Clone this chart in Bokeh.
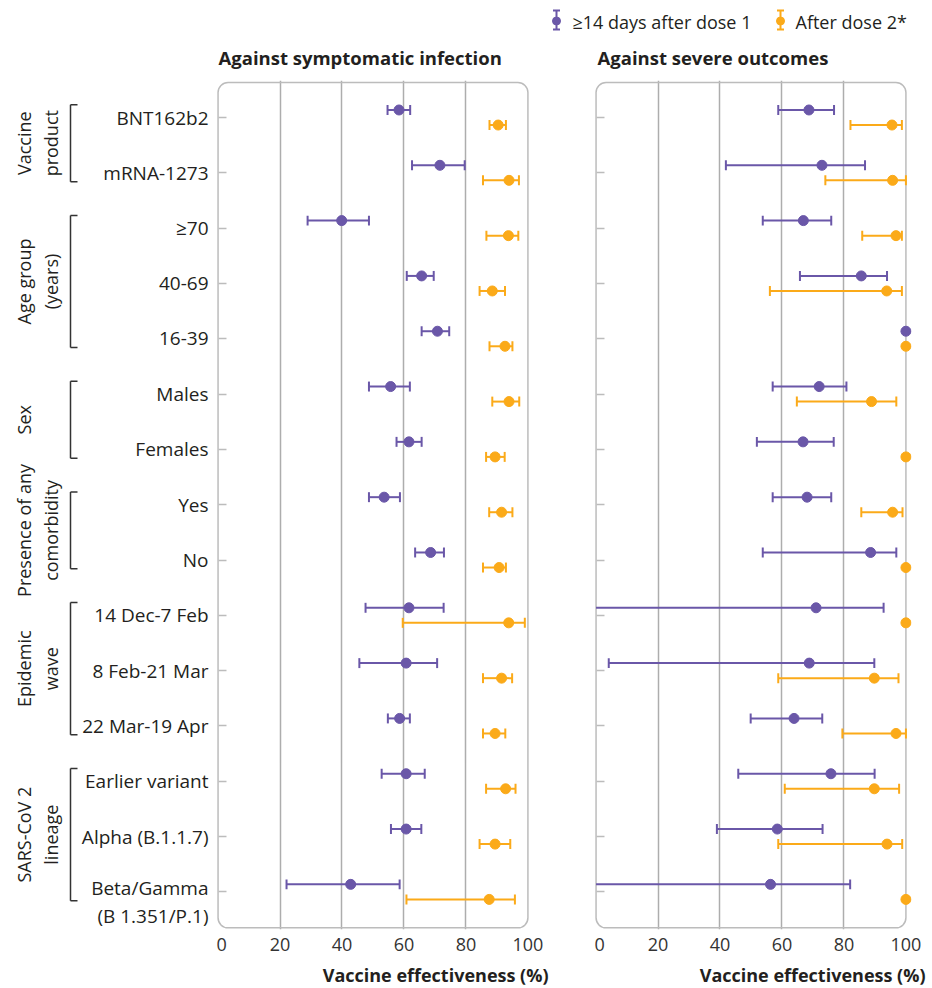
import numpy as np
from bokeh.plotting import figure
from bokeh.models import Range1d, FixedTicker
from bokeh.layouts import column, row
from bokeh.embed import file_html
from bokeh.resources import INLINE
from bokeh.core.properties import value

# ---------------- data ----------------
rows = ["BNT162b2", "mRNA-1273", "≥70", "40-69", "16-39", "Males", "Females",
        "Yes", "No", "14 Dec-7 Feb", "8 Feb-21 Mar", "22 Mar-19 Apr",
        "Earlier variant", "Alpha (B.1.1.7)", "Beta/Gamma\n(B 1.351/P.1)"]
groups = ["Vaccine\nproduct", "Age group\n(years)", "Sex", "Presence of any\ncomorbidity",
          "Epidemic\nwave", "SARS-CoV 2\nlineage"]
group_first = [0, 2, 5, 7, 9, 12]
group_last = [1, 4, 6, 8, 11, 14]
x_ticks = [0, 20, 40, 60, 80, 100]
panel_titles = ["Against symptomatic infection", "Against severe outcomes"]
series_names = ["≥14 days after dose 1", "After dose 2*"]
x_label = "Vaccine effectiveness (%)"

NA = np.nan        # no interval shown
BELOW = -np.inf    # lower limit falls below the axis (not readable)

# Against symptomatic infection
sym_d1_est = [58.4, 71.6, 39.9, 65.7, 70.8, 55.7, 61.6, 53.6, 68.6, 61.6, 60.7, 58.6, 60.7, 60.7, 42.8]
sym_d1_lo  = [54.7, 62.6, 28.9, 60.9, 65.7, 48.7, 57.6, 48.7, 63.6, 47.6, 45.6, 54.8, 52.8, 55.8, 22.1]
sym_d1_hi  = [62.0, 79.6, 48.7, 69.6, 74.6, 61.9, 65.7, 58.7, 72.9, 72.8, 70.7, 61.9, 66.7, 65.6, 58.6]
sym_d2_est = [90.4, 93.9, 93.7, 88.5, 92.6, 93.9, 89.4, 91.5, 90.7, 93.8, 91.5, 89.4, 92.8, 89.4, 87.5]
sym_d2_lo  = [87.6, 85.5, 86.6, 84.4, 87.6, 88.5, 86.5, 87.5, 85.5, 59.6, 85.5, 85.5, 86.5, 84.4, 60.8]
sym_d2_hi  = [92.9, 97.1, 96.9, 92.6, 95.0, 97.2, 92.5, 95.0, 92.9, 99.0, 94.9, 92.7, 96.0, 94.3, 95.8]

# Against severe outcomes
sev_d1_est = [68.7, 72.9, 66.9, 85.6, 100, 72.0, 66.8, 68.1, 88.6, 71.0, 68.8, 63.9, 75.8, 58.5, 56.3]
sev_d1_lo  = [58.8, 41.9, 53.8, 65.8, NA, 57.0, 51.9, 57.0, 53.8, BELOW, 4.1, 49.9, 45.9, 39.0, BELOW]
sev_d1_hi  = [76.8, 86.8, 75.9, 93.9, NA, 80.8, 76.7, 75.9, 96.9, 92.8, 89.8, 73.0, 89.9, 73.1, 82.0]
sev_d2_est = [95.5, 95.7, 96.8, 93.8, 100, 88.9, 100, 95.7, 100, 100, 89.8, 96.8, 89.8, 93.9, 100]
sev_d2_lo  = [82.1, 74.0, 85.9, 56.1, NA, 64.8, NA, 85.6, NA, NA, 58.8, 79.5, 60.9, 58.8, NA]
sev_d2_hi  = [98.7, 100, 98.7, 98.7, NA, 96.9, NA, 98.9, NA, NA, 97.6, 100, 97.8, 98.8, NA]

# ---------------- style ----------------
PURPLE = "#6a57a8"
ORANGE = "#fbaa19"
TXT = "#231f20"
FRAME_C = "#bcbcbc"
GRID_C = "#adadad"
FONT = "Open Sans"

ROW_PX = 55.3
FRAME_W = 317
FRAME_H = 849
Y_TOP = -0.669
Y_BOT = 14.68
BOX_TOP = -0.633
BOX_BOT = 14.65
X0, X1 = -0.5, 101.8
OFF = 0.136
CAP = 0.09
LW = 216
BOTTOM = 30

y_range = Range1d(Y_BOT, Y_TOP)


def bare(fig):
    fig.outline_line_color = None
    fig.grid.visible = False
    fig.background_fill_color = "white"
    fig.border_fill_color = "white"


def panel(d1, d2, mbr):
    p = figure(frame_width=FRAME_W, frame_height=FRAME_H,
               x_range=Range1d(X0, X1), y_range=y_range,
               output_backend="svg", toolbar_location=None,
               min_border_left=0, min_border_top=0, min_border_bottom=BOTTOM,
               min_border_right=mbr)
    p.outline_line_color = None
    p.background_fill_color = "white"
    p.border_fill_color = "white"
    p.ygrid.visible = False
    p.xgrid.ticker = FixedTicker(ticks=x_ticks[1:-1])
    p.xgrid.grid_line_color = GRID_C
    p.xgrid.grid_line_width = 1.5

    xa = p.xaxis[0]
    xa.ticker = FixedTicker(ticks=x_ticks)
    xa.axis_line_color = None
    xa.major_tick_line_color = None
    xa.minor_tick_line_color = None
    xa.major_label_text_font = FONT
    xa.major_label_text_font_size = "18px"
    xa.major_label_text_color = "#333333"
    xa.major_label_standoff = 2

    ya = p.yaxis[0]
    ya.ticker = FixedTicker(ticks=list(range(len(rows))))
    ya.major_label_overrides = {i: "" for i in range(len(rows))}
    ya.fixed_location = 0
    ya.axis_line_color = None
    ya.major_tick_in = 8
    ya.major_tick_out = 0
    ya.major_tick_line_color = FRAME_C
    ya.major_tick_line_width = 1.5
    ya.minor_tick_line_color = None
    ya.major_label_standoff = 0

    p.quad(left=x_ticks[0], right=x_ticks[-1], top=BOX_TOP, bottom=BOX_BOT,
           fill_color=None, line_color=FRAME_C, line_width=1.5, border_radius=10)

    y = np.arange(len(rows), dtype=float)
    for (est, lo, hi), color, sign in [(d1, PURPLE, -1), (d2, ORANGE, 1)]:
        est = np.array(est, dtype=float)
        lo = np.array(lo, dtype=float)
        hi = np.array(hi, dtype=float)
        yy = y + sign * OFF
        has = ~np.isnan(hi)
        p.segment(x0=np.clip(lo[has], x_ticks[0], x_ticks[-1]), x1=hi[has],
                  y0=yy[has], y1=yy[has], line_color=color, line_width=2)
        lo_cap = has & np.isfinite(lo)
        cx = np.concatenate([lo[lo_cap], hi[has]])
        cy = np.concatenate([yy[lo_cap], yy[has]])
        p.segment(x0=cx, x1=cx, y0=cy - CAP, y1=cy + CAP, line_color=color, line_width=2)
        p.scatter(x=est, y=yy, size=10, fill_color=color, line_color=color)
    return p


p1 = panel((sym_d1_est, sym_d1_lo, sym_d1_hi), (sym_d2_est, sym_d2_lo, sym_d2_hi), 61)
p2 = panel((sev_d1_est, sev_d1_lo, sev_d1_hi), (sev_d2_est, sev_d2_lo, sev_d2_hi), 11)

# ---------------- row / group labels ----------------
lab = figure(frame_width=LW, frame_height=FRAME_H, x_range=Range1d(0, LW), y_range=y_range,
             x_axis_type=None, y_axis_type=None, output_backend="svg", toolbar_location=None,
             min_border_left=0, min_border_right=0, min_border_top=0, min_border_bottom=BOTTOM)
bare(lab)

n_lines = np.array([r.count("\n") for r in rows])
row_y = np.arange(len(rows)) + n_lines * (0.5 * 19 * 1.08 / ROW_PX)
lab.text(x=[208] * len(rows), y=row_y, text=rows, text_align="right", text_baseline="middle",
         text_font=value(FONT), text_font_size="19px", text_color=TXT, text_line_height=1.08)

g0 = np.array(group_first) - 0.23
g1 = np.array(group_last) + 0.16
lab.segment(x0=[70] * len(groups), x1=[70] * len(groups), y0=g0, y1=g1, line_color="#333333", line_width=1.5)
lab.segment(x0=[70] * len(groups), x1=[77] * len(groups), y0=g0, y1=g0, line_color="#333333", line_width=1.5)
lab.segment(x0=[70] * len(groups), x1=[77] * len(groups), y0=g1, y1=g1, line_color="#333333", line_width=1.5)
lab.text(x=[11] * len(groups), y=(g0 + g1) / 2, text=groups, angle=np.pi / 2,
         text_align="center", text_baseline="top", text_font=value(FONT),
         text_font_size="18px", text_color=TXT, text_line_height=1.15)

# ---------------- header: legend + panel titles ----------------
HW, HH = 928, 80
hdr = figure(frame_width=HW, frame_height=HH, x_range=Range1d(0, HW), y_range=Range1d(HH, 0),
             x_axis_type=None, y_axis_type=None, output_backend="svg", toolbar_location=None,
             min_border_left=0, min_border_right=0, min_border_top=0, min_border_bottom=0)
bare(hdr)

icon_x = [556, 780]
text_x = [572, 795]
colors = [PURPLE, ORANGE]
hdr.segment(x0=icon_x, x1=icon_x, y0=[10, 10], y1=[29, 29], line_color=colors, line_width=2)
hdr.segment(x0=[x - 3.5 for x in icon_x], x1=[x + 3.5 for x in icon_x], y0=[10, 10], y1=[10, 10],
            line_color=colors, line_width=2)
hdr.segment(x0=[x - 3.5 for x in icon_x], x1=[x + 3.5 for x in icon_x], y0=[29, 29], y1=[29, 29],
            line_color=colors, line_width=2)
hdr.scatter(x=icon_x, y=[20.5, 20.5], size=8, fill_color=colors, line_color=colors)
hdr.text(x=text_x, y=[21, 21], text=series_names, text_align="left", text_baseline="middle",
         text_font=value(FONT), text_font_size="18px", text_color=TXT)
hdr.text(x=[218, 597], y=[57, 57], text=panel_titles, text_align="left", text_baseline="middle",
         text_font=value(FONT), text_font_size="18.5px", text_font_style="bold", text_color=TXT)

# ---------------- footer: x axis titles ----------------
FH = 29
ftr = figure(frame_width=HW, frame_height=FH, x_range=Range1d(0, HW), y_range=Range1d(FH, 0),
             x_axis_type=None, y_axis_type=None, output_backend="svg", toolbar_location=None,
             min_border_left=0, min_border_right=0, min_border_top=0, min_border_bottom=0)
bare(ftr)
ftr.text(x=[548, 925], y=[15.5, 15.5], text=[x_label, x_label], text_align="right",
         text_baseline="middle", text_font=value(FONT), text_font_size="18px",
         text_font_style="bold", text_color=TXT)

layout = column(hdr, row(lab, p1, p2), ftr)
open("out.html", "w").write(file_html(layout, INLINE))
